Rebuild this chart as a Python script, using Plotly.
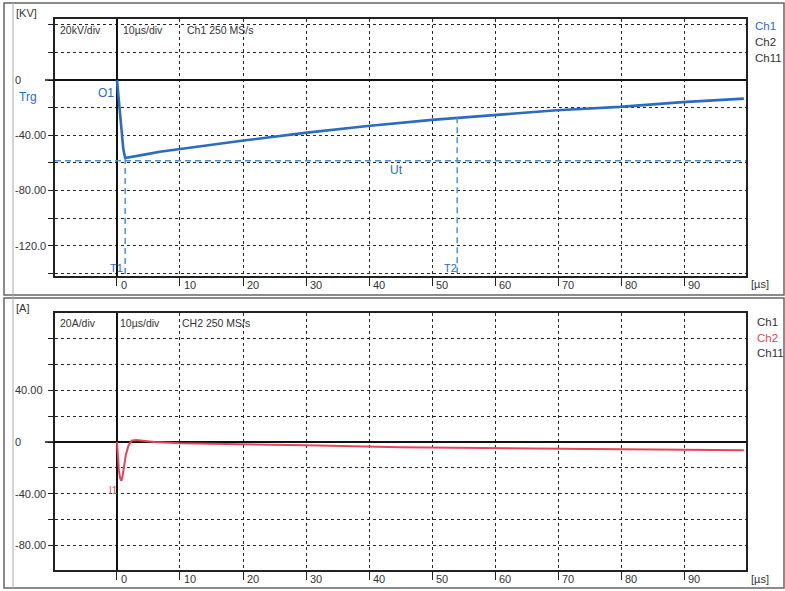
import plotly.graph_objects as go

# ---------------- data ----------------
volt_t = [0, 0.25, 0.5, 0.75, 1.0, 1.3, 2.0, 3.0, 5.0, 6.8, 10, 19.8, 29.8, 39.8, 50, 59.7, 69.8, 79.8, 89.8, 99.5]
volt_kv = [0, -13, -26, -39, -50, -56.5, -56, -55, -53.5, -52, -50, -44, -38.3, -33.3, -28.9, -25.5, -21.9, -19.5, -16, -13.5]

curr_t = [0, 0.15, 0.3, 0.5, 0.7, 0.9, 1.1, 1.4, 1.8, 2.3, 3, 4, 6, 10, 20, 30, 45, 60, 75, 90, 99.5]
curr_a = [0, -12, -22, -28, -30, -26, -18, -10, -3, 1, 1.5, 1, 0, -1, -1.5, -2.5, -4, -5, -5.5, -6, -6.3]

x_ticks = [0, 10, 20, 30, 40, 50, 60, 70, 80, 90]
v_grid = [-140, -120, -100, -80, -60, -40, -20, 20, 40]
v_labels = {0: "0", -40: "-40.00", -80: "-80.00", -120: "-120.0"}
i_grid = [-80, -60, -40, -20, 20, 40, 60, 80]
i_labels = {40: "40.00", 0: "0", -40: "-40.00", -80: "-80.00"}

ut_level = -58.5
t1_time = 1.3
t2_time = 54.0
t2_level = -27.0

W, H = 785, 591
X0, X1 = 55, 746
TOP_Y0, TOP_Y1 = 19, 276
BOT_Y0, BOT_Y1 = 313, 570
XR = [-9.84, 99.84]
VR = [-142, 44.2]
IR = [-99.2, 100]

BLUE = "#2c6cbf"
CUR = "#4a90dc"
RED = "#e8435a"
GRID = "#262626"
FONT = "Liberation Sans"


def px(x):
    return x / W


def py(y):
    return 1 - y / H


fig = go.Figure()
fig.add_trace(go.Scatter(x=volt_t, y=volt_kv, mode="lines", line=dict(color=BLUE, width=2.6),
                         xaxis="x", yaxis="y", showlegend=False, hoverinfo="skip"))
fig.add_trace(go.Scatter(x=curr_t, y=curr_a, mode="lines", line=dict(color=RED, width=2),
                         xaxis="x2", yaxis="y2", showlegend=False, hoverinfo="skip"))

xcommon = dict(range=XR, domain=[px(X0), px(X1)], tickvals=x_ticks, showticklabels=False,
               showgrid=True, gridcolor=GRID, gridwidth=1.4, griddash="3px,3px",
               zeroline=True, zerolinecolor="#111", zerolinewidth=1.5,
               showline=True, mirror=True, linecolor="#222", linewidth=1.5,
               ticks="outside", ticklen=8, tickcolor="#222", fixedrange=True)
ycommon = dict(showgrid=True, gridcolor=GRID, gridwidth=1.4, griddash="3px,3px",
               zeroline=True, zerolinecolor="#111", zerolinewidth=1.5,
               showline=True, mirror=True, linecolor="#222", linewidth=1.5,
               ticks="outside", ticklen=5, tickcolor="#222", showticklabels=False, fixedrange=True)

fig.update_layout(
    width=W, height=H, margin=dict(l=0, r=0, t=0, b=0),
    paper_bgcolor="white", plot_bgcolor="white",
    xaxis=dict(anchor="y", **xcommon),
    yaxis=dict(anchor="x", range=VR, domain=[py(TOP_Y1), py(TOP_Y0)],
               tickvals=v_grid + [0], **ycommon),
    xaxis2=dict(anchor="y2", **xcommon),
    yaxis2=dict(anchor="x2", range=IR, domain=[py(BOT_Y1), py(BOT_Y0)],
                tickvals=i_grid + [0], **ycommon),
)

shapes = []
# cursors in top panel
shapes.append(dict(type="line", xref="paper", yref="y", x0=px(X0), x1=px(X1), y0=ut_level, y1=ut_level,
                   line=dict(color=CUR, width=1.5, dash="6px,4px")))
shapes.append(dict(type="line", xref="x", yref="y", x0=t1_time, x1=t1_time, y0=ut_level + 2, y1=VR[0],
                   line=dict(color=CUR, width=1.5, dash="6px,4px")))
shapes.append(dict(type="line", xref="x", yref="y", x0=t2_time, x1=t2_time, y0=t2_level, y1=VR[0],
                   line=dict(color=CUR, width=1.5, dash="6px,4px")))
# zero line extensions to the left
shapes.append(dict(type="line", xref="paper", yref="y", x0=px(45), x1=px(X0), y0=0, y1=0,
                   line=dict(color="#111", width=1.5)))
shapes.append(dict(type="line", xref="paper", yref="y2", x0=px(45), x1=px(X0), y0=0, y1=0,
                   line=dict(color="#111", width=1.5)))
# panel frames
shapes.append(dict(type="rect", xref="paper", yref="paper", x0=px(4), x1=px(784), y0=py(295), y1=py(3),
                   line=dict(color="#666", width=1.5)))
shapes.append(dict(type="rect", xref="paper", yref="paper", x0=px(4), x1=px(784), y0=py(588), y1=py(298),
                   line=dict(color="#666", width=1.5)))
shapes.append(dict(type="line", xref="paper", yref="paper", x0=px(13), x1=px(13), y0=py(588), y1=py(3),
                   line=dict(color="#aaa", width=1)))
fig.update_layout(shapes=shapes)

ann = []


def txt(x, y, s, color="#333", size=11, anchor="left"):
    ann.append(dict(xref="paper", yref="paper", x=px(x), y=py(y), text=s, showarrow=False,
                    xanchor=anchor, yanchor="middle", font=dict(family=FONT, size=size, color=color)))


# y tick labels (left aligned)
for v, s in v_labels.items():
    y = TOP_Y0 + (VR[1] - v) / (VR[1] - VR[0]) * (TOP_Y1 - TOP_Y0)
    txt(13, y, s)
for v, s in i_labels.items():
    y = BOT_Y0 + (IR[1] - v) / (IR[1] - IR[0]) * (BOT_Y1 - BOT_Y0)
    txt(13, y, s)

# x tick labels, placed beside their tick marks
for v in x_ticks:
    xpix = X0 + (v - XR[0]) / (XR[1] - XR[0]) * (X1 - X0)
    txt(xpix + 2, 285, str(v))
    txt(xpix + 2, 579, str(v))

txt(14, 13, "[KV]")
txt(14, 308, "[A]")
txt(749, 284, "[µs]")
txt(749, 579, "[µs]")

txt(58, 30, "20kV/div", size=10.5)
txt(121, 30, "10µs/div", size=10.5)
txt(185, 30, "Ch1 250 MS/s", size=10.5)
txt(58, 323, "20A/div", size=10.5)
txt(118, 323, "10µs/div", size=10.5)
txt(180, 323, "CH2 250 MS/s", size=10.5)

txt(753, 26, "Ch1", color=BLUE, size=11.5)
txt(753, 42, "Ch2", color="#333", size=11.5)
txt(753, 58, "Ch11", color="#333", size=11.5)
txt(755, 322, "Ch1", color="#333", size=11.5)
txt(755, 338, "Ch2", color=RED, size=11.5)
txt(755, 353, "Ch11", color="#333", size=11.5)

txt(17, 97, "Trg", color=BLUE, size=12)
txt(50, 97, "▪", color=BLUE, size=6)
txt(96, 93, "O1", color=BLUE, size=12)
txt(388, 170, "Ut", color=BLUE, size=12)
txt(108, 268, "T1", color=BLUE, size=11)
txt(442, 268, "T2", color=BLUE, size=11)
txt(107, 490, "I1", color=RED, size=10)

fig.update_layout(annotations=ann)

fig.write_html("out.html", config={"displayModeBar": False},
               post_script="document.body.style.margin='0';document.body.style.overflow='hidden';")
